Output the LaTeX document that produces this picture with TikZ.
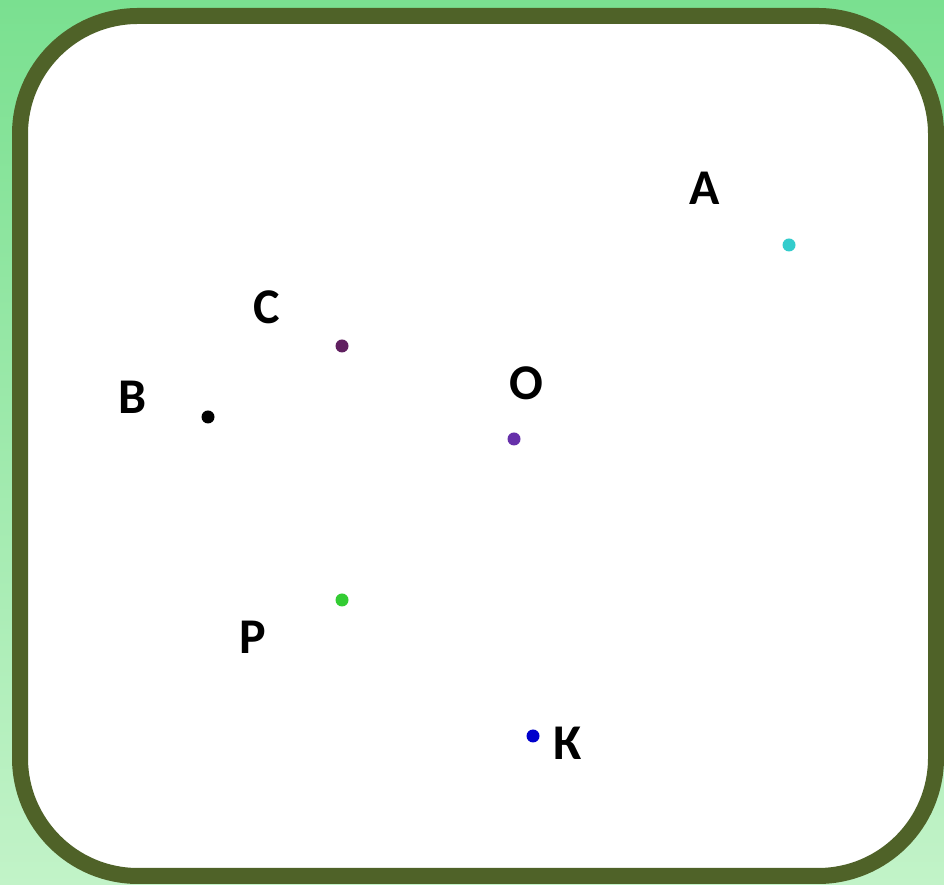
\documentclass[tikz,border=0pt]{standalone}
\usepackage{fontspec}
\setmainfont{Carlito}
\begin{document}
\begin{tikzpicture}[x=1pt,y=1pt,
  dot/.style={circle,inner sep=0pt,minimum size=13pt},
  lbl/.style={inner sep=0pt,font=\fontsize{50}{50}\selectfont\bfseries,text=black}]
\useasboundingbox (0,0) rectangle (944,885);
\shade[top color={rgb,255:red,122;green,224;blue,144},bottom color={rgb,255:red,194;green,243;blue,200}] (0,0) rectangle (944,885);
\draw[line width=16pt,draw={rgb,255:red,79;green,98;blue,40},fill=white,rounded corners=118pt] (20,9) rectangle (936,869);
% dots
\node[dot,fill={rgb,255:red,51;green,204;blue,204}] (pA) at (789,640) {};
\node[dot,fill={rgb,255:red,96;green,32;blue,96}] (pC) at (342,539) {};
\node[dot,fill=black] (pB) at (208,468) {};
\node[dot,fill={rgb,255:red,102;green,48;blue,170}] (pO) at (514,446) {};
\node[dot,fill={rgb,255:red,51;green,204;blue,51}] (pP) at (342,285) {};
\node[dot,fill={rgb,255:red,0;green,0;blue,204}] (pK) at (533,149) {};
% labels
\node[lbl] (lA) at (705,697) {А};
\node[lbl] (lC) at (267,578) {С};
\node[lbl] (lB) at (133,488) {В};
\node[lbl] (lO) at (526,502) {О};
\node[lbl] (lP) at (253,248) {Р};
\node[lbl] (lK) at (568,142) {К};
\end{tikzpicture}
\end{document}
